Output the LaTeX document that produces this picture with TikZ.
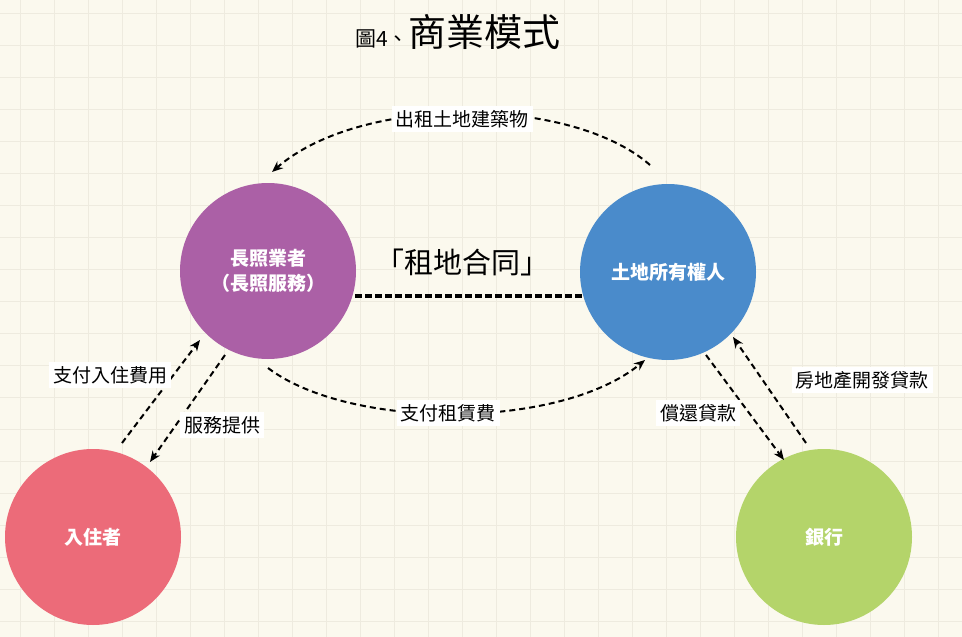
\documentclass[tikz,border=0pt]{standalone}
\usepackage{fontspec}
\setmainfont{Noto Sans CJK TC}
\usetikzlibrary{arrows.meta}
\definecolor{bg}{HTML}{FBF9EE}
\definecolor{gridc}{HTML}{EEEBDF}
\definecolor{cpur}{HTML}{AB60A6}
\definecolor{cblu}{HTML}{4A8BCB}
\definecolor{cpink}{HTML}{EC6B79}
\definecolor{cgrn}{HTML}{B4D46A}
\begin{document}
\begin{tikzpicture}[x=1pt,y=-1pt,
  circ/.style={circle,minimum size=176pt,inner sep=0pt,text=white,font=\bfseries\fontsize{19}{25}\selectfont,align=center},
  lab/.style={fill=white,inner sep=4pt,font=\fontsize{19}{22}\selectfont},
  arr/.style={line width=2pt,dash pattern=on 6pt off 4pt,-{Stealth[length=11pt,width=9pt]}}]
\fill[bg] (0,0) rectangle (962,637);
\begin{scope}
\clip (0,0) rectangle (962,637);
\foreach \x in {20,54,...,962} \draw[gridc,line width=1pt] (\x,0) -- (\x,637);
\foreach \y in {13,45,...,637} \draw[gridc,line width=1pt] (0,\y) -- (962,\y);
\end{scope}
\useasboundingbox (0,0) rectangle (962,637);
\node (title) at (458,32) {\fontsize{21}{24}\selectfont 圖4、\fontsize{38}{42}\selectfont 商業模式};
\node[circ,fill=cpur] (lc) at (268,271) {長照業者\\（長照服務）};
\node[circ,fill=cblu] (lo) at (668,272) {土地所有權人};
\node[circ,fill=cpink] (re) at (93,537) {入住者};
\node[circ,fill=cgrn] (bk) at (824,537) {銀行};
\coordinate (a1) at (650,165);
\coordinate (a2) at (272,172);
\draw[arr] (a1) .. controls (570,95) and (360,95) .. (a2);
\node[lab] (t1) at (462,119) {出租土地建築物};
\coordinate (c1) at (355,296); \coordinate (c2) at (582,296);
\draw[line width=3.5pt,dash pattern=on 7pt off 3pt] (c1) -- (c2);
\node[font=\fontsize{29}{34}\selectfont] (ct) at (462,262) {「租地合同」};
\coordinate (b1) at (268,368); \coordinate (b2) at (645,360);
\draw[arr] (b1) .. controls (350,430) and (560,430) .. (b2);
\node[lab] (t2) at (448,413) {支付租賃費};
\coordinate (p1) at (122,443); \coordinate (p2) at (200,340);
\draw[arr] (p1) -- (p2);
\node[lab] (t3) at (110,375) {支付入住費用};
\coordinate (s1) at (225,355); \coordinate (s2) at (150,462);
\draw[arr] (s1) -- (s2);
\node[lab] (t4) at (222,425) {服務提供};
\coordinate (r1) at (706,355); \coordinate (r2) at (784,460);
\draw[arr] (r1) -- (r2);
\node[lab] (t5) at (698,413) {償還貸款};
\coordinate (d1) at (806,443); \coordinate (d2) at (733,337);
\draw[arr] (d1) -- (d2);
\node[lab] (t6) at (862,380) {房地產開發貸款};
\end{tikzpicture}
\end{document}
